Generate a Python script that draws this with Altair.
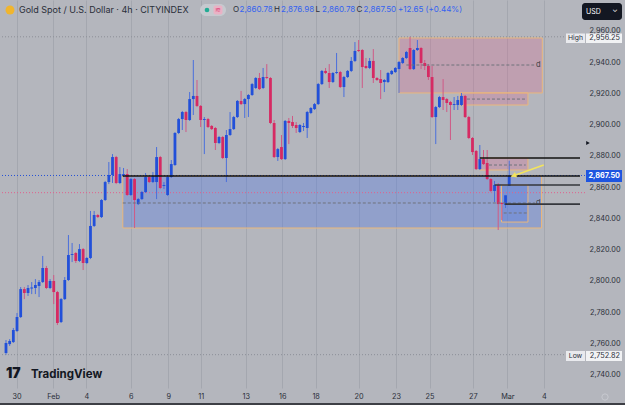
import json
import altair as alt
import pandas as pd

# ---------------- data ----------------
opens = [2753.9, 2759.6, 2760.9, 2768.0, 2776.9, 2794.8, 2792.3, 2795.2, 2795.5, 2796.8,
         2799.3, 2808.3, 2795.5, 2800.0, 2792.9, 2773.7, 2788.4, 2800.6, 2816.6, 2817.9,
         2812.8, 2820.4, 2811.5, 2814.7, 2835.2, 2842.2, 2840.9, 2851.8, 2863.3, 2867.8,
         2879.3, 2862.7, 2867.8, 2868.4, 2855.0, 2865.2, 2849.2, 2852.4, 2856.9, 2866.5,
         2863.3, 2863.3, 2879.3, 2860.8, 2855.0, 2866.5, 2874.2, 2894.7, 2903.6, 2908.1,
         2903.0, 2916.4, 2918.4, 2912.0, 2903.0, 2903.6, 2899.2, 2897.9, 2888.3, 2892.1,
         2878.7, 2893.4, 2897.2, 2904.9, 2915.2, 2913.2, 2916.4, 2919.0, 2923.5, 2929.9,
         2923.5, 2930.5, 2929.9, 2901.1, 2879.3, 2885.7, 2878.0, 2902.4, 2901.7, 2899.8,
         2895.3, 2898.5, 2897.9, 2907.5, 2910.0, 2913.2, 2926.0, 2934.4, 2933.1, 2927.3,
         2933.1, 2933.7, 2924.1, 2930.5, 2934.4, 2940.8, 2947.8, 2947.8, 2937.6, 2936.3,
         2940.8, 2929.9, 2929.2, 2927.3, 2927.3, 2932.4, 2933.7, 2935.6, 2939.5, 2942.7,
         2949.1, 2935.6, 2947.8, 2949.1, 2939.5, 2937.6, 2930.5, 2904.9, 2911.3, 2917.7,
         2916.4, 2914.5, 2912.6, 2912.6, 2912.6, 2918.4, 2904.9, 2891.5, 2883.2, 2871.6,
         2878.0, 2875.5, 2865.2, 2857.6, 2861.4, 2849.9, 2848.6, 2860.78]
highs = [2762.2, 2762.8, 2769.9, 2779.5, 2796.1, 2796.1, 2797.4, 2799.3, 2801.2, 2800.6,
         2816.0, 2809.6, 2801.2, 2803.8, 2793.6, 2789.1, 2802.5, 2829.4, 2824.3, 2818.5,
         2823.6, 2821.1, 2815.3, 2844.8, 2844.8, 2842.8, 2852.4, 2864.0, 2876.1, 2881.2,
         2880.0, 2872.9, 2872.3, 2871.6, 2865.9, 2865.9, 2853.1, 2857.6, 2869.1, 2867.2,
         2869.7, 2885.7, 2880.0, 2863.3, 2867.2, 2877.4, 2895.3, 2904.3, 2908.8, 2908.8,
         2920.9, 2941.4, 2928.6, 2912.6, 2904.9, 2904.3, 2899.8, 2898.5, 2892.8, 2892.8,
         2896.6, 2908.1, 2905.6, 2915.8, 2921.6, 2917.1, 2919.6, 2926.7, 2930.5, 2933.1,
         2936.3, 2938.8, 2930.5, 2903.0, 2885.1, 2893.4, 2903.0, 2904.3, 2905.6, 2901.7,
         2900.4, 2901.1, 2908.8, 2911.3, 2913.9, 2926.7, 2935.0, 2936.3, 2938.8, 2933.7,
         2945.9, 2934.4, 2931.2, 2935.0, 2943.3, 2952.9, 2954.2, 2948.4, 2942.7, 2942.7,
         2948.4, 2930.5, 2935.0, 2929.2, 2933.7, 2935.0, 2936.9, 2940.8, 2943.3, 2947.2,
         2956.25, 2948.4, 2954.2, 2949.7, 2941.4, 2938.8, 2937.6, 2912.0, 2918.4, 2929.2,
         2917.1, 2915.2, 2917.7, 2918.4, 2920.3, 2919.0, 2905.6, 2892.1, 2883.8, 2887.0,
         2883.8, 2883.8, 2865.9, 2864.0, 2862.7, 2850.5, 2854.4, 2876.98]
lows = [2752.82, 2758.4, 2760.3, 2767.3, 2776.3, 2788.4, 2790.4, 2791.6, 2791.6, 2789.7,
        2798.7, 2794.8, 2794.8, 2785.2, 2771.8, 2773.1, 2787.8, 2800.0, 2812.1, 2811.5,
        2812.1, 2807.0, 2810.8, 2814.0, 2834.5, 2840.3, 2840.3, 2851.2, 2862.0, 2862.7,
        2862.0, 2862.0, 2866.5, 2854.4, 2854.4, 2833.9, 2848.6, 2851.8, 2856.3, 2862.7,
        2862.7, 2852.4, 2858.8, 2858.8, 2854.4, 2865.9, 2873.6, 2894.0, 2896.6, 2895.3,
        2902.4, 2906.2, 2911.3, 2898.5, 2881.2, 2897.9, 2896.6, 2883.8, 2887.6, 2878.0,
        2863.3, 2892.8, 2896.6, 2904.3, 2912.6, 2904.3, 2904.9, 2918.4, 2922.8, 2922.2,
        2922.8, 2929.2, 2900.4, 2878.7, 2876.8, 2877.4, 2877.4, 2887.6, 2897.9, 2894.7,
        2894.7, 2896.0, 2891.5, 2906.8, 2909.4, 2912.6, 2925.4, 2932.4, 2923.5, 2926.7,
        2932.4, 2923.5, 2917.7, 2929.9, 2933.7, 2940.1, 2946.5, 2923.5, 2935.6, 2935.6,
        2926.7, 2928.0, 2916.4, 2920.9, 2926.7, 2931.8, 2933.1, 2920.3, 2938.8, 2942.0,
        2935.0, 2935.0, 2947.2, 2935.6, 2935.0, 2928.6, 2904.3, 2887.6, 2910.7, 2909.4,
        2908.1, 2890.2, 2909.4, 2909.4, 2912.0, 2904.3, 2890.8, 2880.6, 2871.0, 2871.0,
        2874.2, 2864.6, 2856.9, 2850.5, 2832.6, 2839.0, 2846.7, 2860.78]
closes = [2760.3, 2761.6, 2768.6, 2776.9, 2794.8, 2792.3, 2795.5, 2795.8, 2797.4, 2799.3,
          2808.3, 2795.5, 2800.0, 2792.9, 2773.1, 2788.4, 2800.6, 2816.6, 2817.2, 2812.8,
          2820.4, 2811.5, 2814.7, 2835.2, 2842.2, 2840.9, 2851.8, 2863.3, 2867.8, 2879.3,
          2862.7, 2868.4, 2868.4, 2855.0, 2865.2, 2851.8, 2852.4, 2856.9, 2866.5, 2863.3,
          2867.2, 2879.3, 2859.5, 2861.4, 2866.5, 2874.8, 2894.7, 2903.6, 2908.1, 2903.0,
          2916.4, 2918.4, 2912.0, 2903.0, 2903.6, 2898.5, 2897.2, 2888.3, 2892.1, 2878.7,
          2893.4, 2897.2, 2904.9, 2915.2, 2913.2, 2916.4, 2919.0, 2926.0, 2929.9, 2922.8,
          2930.5, 2929.9, 2901.1, 2879.3, 2884.4, 2878.0, 2902.4, 2901.1, 2899.2, 2897.9,
          2899.8, 2899.2, 2908.1, 2910.7, 2913.2, 2926.0, 2934.4, 2933.1, 2927.3, 2933.1,
          2933.7, 2924.1, 2930.5, 2934.4, 2940.8, 2947.2, 2947.2, 2936.9, 2936.3, 2940.8,
          2929.9, 2928.6, 2926.7, 2928.6, 2933.1, 2934.4, 2936.3, 2940.1, 2942.7, 2946.5,
          2935.6, 2947.8, 2949.1, 2939.5, 2937.6, 2930.5, 2904.9, 2911.3, 2917.7, 2915.8,
          2913.9, 2912.6, 2913.2, 2915.8, 2918.4, 2904.9, 2891.5, 2882.5, 2871.6, 2878.0,
          2874.8, 2865.2, 2857.6, 2861.4, 2849.2, 2849.2, 2854.85, 2867.50]

# time axis (bar index positions of the date labels)
tick_pos = [2.9, 12.8, 21.9, 34.0, 44.2, 53.0, 65.3, 75.2, 84.3, 96.0, 106.2, 115.3, 127.1, 136.5, 146.4]
tick_lbl = ["30", "Feb", "4", "6", "9", "11", "13", "16", "18", "20", "23", "25", "27", "Mar", "4"]
price_ticks = [2740, 2760, 2780, 2800, 2820, 2840, 2860, 2880, 2900, 2920, 2940, 2960]

# zones (bar index range, price range)
zone_x0 = [31.8, 107.0, 123.6, 129.0, 134.9]
zone_x1 = [145.8, 146.0, 142.1, 142.1, 142.1]
zone_top = [2867.2, 2955.5, 2920.3, 2878.7, 2861.4]
zone_bot = [2833.9, 2920.3, 2912.6, 2871.0, 2837.7]
zone_mid = [2849.9, 2938.2, 2916.4, 2874.2, 2843.5]
zone_kind = ["demand", "supply", "supply", "supply", "demand"]
mid_x0 = [31.8, 109.0, 125.5, 131.5, 135.5]
mid_x1 = [144.0, 143.8, 141.5, 141.5, 142.0]

# horizontal rays
ray_price = [2878.7, 2861.4, 2849.2, 2867.2]
ray_x0 = [129.0, 133.0, 135.9, 31.8]
ray_kind = ["black", "gray", "gray", "black"]

# full-width price lines
pl_price = [2956.25, 2752.82, 2856.5, 2867.5]
pl_kind = ["hl", "hl", "prev", "last"]

# arrow
arrow_x = [146.4, 137.6]
arrow_p = [2874.2, 2866.9]

XMIN, XMAX = -0.27, 156.27
YMIN, YMAX = 2731.5, 2979.8

BG = "#b4b6bd"
FONT = "Inter"
TXT = "#2a2e39"
BLUE = "#2250d9"
RED = "#d62a63"

n = len(opens)
candles = pd.DataFrame({"i": list(range(n)), "o": opens, "h": highs, "l": lows, "c": closes})
up = candles["c"] >= candles["o"]
candles["col"] = [BLUE if u else RED for u in up]
candles["wcol"] = ["#4a6fdc" if u else "#cf5a86" for u in up]
candles["b0"] = candles[["o", "c"]].min(axis=1)
candles["b1"] = candles[["o", "c"]].max(axis=1)

xs = alt.Scale(domain=[XMIN, XMAX], nice=False, zero=False)
ys = alt.Scale(domain=[YMIN, YMAX], nice=False, zero=False)

label_expr = f"{json.dumps(tick_lbl)}[indexof({json.dumps(tick_pos)}, datum.value)]"
xaxis = alt.Axis(values=tick_pos, labelExpr=label_expr, title=None, grid=True,
                 gridColor="#a4a7af", gridWidth=1, ticks=False, tickSize=0, domain=False,
                 labelFont=FONT, labelFontSize=7.3, labelColor=TXT, labelPadding=4,
                 labelFlush=False, labelOverlap=False)
yaxis = alt.Axis(orient="right", values=price_ticks, format=",.2f", title=None, grid=False,
                 ticks=False, tickSize=0, domain=False, labelAlign="right", labelPadding=35,
                 labelFont=FONT, labelFontSize=7.3, labelColor=TXT, labelOverlap=False,
                 labelBaseline="middle", labelFlush=False)


def X(f):
    return alt.X(f, type="quantitative", scale=xs, axis=xaxis)


def Y(f):
    return alt.Y(f, type="quantitative", scale=ys, axis=yaxis)


layers = []

# zones
zdf = pd.DataFrame({"x0": zone_x0, "x1": zone_x1, "top": zone_top, "bot": zone_bot, "kind": zone_kind})
zdf["fill"] = ["#4f79e6" if k == "demand" else "#e05a8a" for k in zdf["kind"]]
zdf["op"] = [0.35 if k == "demand" else 0.25 for k in zdf["kind"]]
layers.append(alt.Chart(zdf).mark_rect(stroke="#eab77c", strokeWidth=1).encode(
    x=X("x0"), x2="x1", y=Y("top"), y2="bot",
    color=alt.Color("fill:N", scale=None),
    fillOpacity=alt.FillOpacity("op:Q", scale=None)))

# full width dotted price lines
pdf = pd.DataFrame({"p": pl_price, "kind": pl_kind})
pdf["col"] = [{"hl": "#8c8f98", "prev": "#e0608c", "last": "#2451d6"}[k] for k in pl_kind]
layers.append(alt.Chart(pdf).mark_rule(strokeDash=[1, 2], strokeWidth=1).encode(
    y=Y("p"), color=alt.Color("col:N", scale=None)))

# wicks and bodies
layers.append(alt.Chart(candles).mark_rule(strokeWidth=1).encode(
    x=X("i"), y=Y("l"), y2="h", color=alt.Color("wcol:N", scale=None)))
layers.append(alt.Chart(candles).mark_bar(size=2.8).encode(
    x=X("i"), y=Y("b0"), y2="b1", color=alt.Color("col:N", scale=None)))

# dashed mid lines of zones
mdf = pd.DataFrame({"x0": mid_x0, "x1": mid_x1, "p": zone_mid})
layers.append(alt.Chart(mdf).mark_rule(strokeDash=[3, 2], strokeWidth=1, color="#6f727b").encode(
    x=X("x0"), x2="x1", y=Y("p")))

# horizontal rays
rdf = pd.DataFrame({"x0": ray_x0, "p": ray_price, "kind": ray_kind})
rdf["x1"] = XMAX
rdf["col"] = ["#121212" if k == "black" else "#35373d" for k in ray_kind]
layers.append(alt.Chart(rdf).mark_rule(strokeWidth=1.6).encode(
    x=X("x0"), x2="x1", y=Y("p"), color=alt.Color("col:N", scale=None)))

# "d" labels
ddf = pd.DataFrame({"x": [144.9, 144.9], "p": [zone_mid[0], zone_mid[1]], "t": ["d", "d"]})
layers.append(alt.Chart(ddf).mark_text(font=FONT, fontSize=7.5, color="#3a3c42", align="center",
                                       baseline="middle").encode(x=X("x"), y=Y("p"), text="t:N"))

# yellow arrow
adf = pd.DataFrame({"x": [arrow_x[0]], "x2": [arrow_x[1]], "p": [arrow_p[0]], "p2": [arrow_p[1]]})
layers.append(alt.Chart(adf).mark_rule(strokeWidth=1.6, color="#f3e45c").encode(
    x=X("x"), x2="x2", y=Y("p"), y2="p2"))
hdf = pd.DataFrame({"x": [arrow_x[1] + 0.6], "p": [arrow_p[1] + 0.45]})
layers.append(alt.Chart(hdf).mark_point(shape="triangle-left", angle=340, filled=True, size=35,
                                        color="#f3e45c", opacity=1).encode(x=X("x"), y=Y("p")))


# ---------------- chrome (TradingView UI) ----------------
def ui_rect(x0, x1, y0, y1, fill, radius=0, stroke=None):
    kw = dict(color=fill, cornerRadius=radius)
    if stroke:
        kw["stroke"] = stroke
    return alt.Chart(pd.DataFrame({"a": [0]})).mark_rect(**kw).encode(
        x=alt.value(x0), x2=alt.value(x1), y=alt.value(y0), y2=alt.value(y1))


def ui_text(t, x, y, color=TXT, size=8, weight="normal", align="left", font=FONT):
    return alt.Chart(pd.DataFrame({"t": [t]})).mark_text(
        font=font, fontSize=size, fontWeight=weight, color=color, align=align, baseline="middle"
    ).encode(x=alt.value(x), y=alt.value(y), text="t:N")


# header
layers.append(alt.Chart(pd.DataFrame({"a": [0]})).mark_point(shape="circle", filled=True, size=80,
                                                           color="#f0b52e", opacity=1).encode(
    x=alt.value(10), y=alt.value(10)))
layers.append(ui_text("Gold Spot / U.S. Dollar · 4h · CITYINDEX", 19, 10, size=9))
layers.append(ui_rect(200, 226, 4, 16, "#c6c9cf", radius=6))
layers.append(alt.Chart(pd.DataFrame({"a": [0]})).mark_point(shape="circle", filled=True, size=22,
                                                           color="#22ab94", opacity=1).encode(
    x=alt.value(207), y=alt.value(10)))
layers.append(ui_rect(213.5, 222.5, 5.5, 14.5, "#e9b2c5", radius=2))
layers.append(ui_text("≋", 218, 10, color="#e0457b", size=7, align="center"))
VAL = "#3563f0"
for t, x, c in [("O", 233, TXT), ("2,860.78", 239.5, VAL), ("H", 274, TXT), ("2,876.98", 281, VAL),
                ("L", 315.5, TXT), ("2,860.78", 322, VAL), ("C", 356.5, TXT), ("2,867.50", 363.5, VAL),
                ("+12.65 (+0.44%)", 398, VAL)]:
    layers.append(ui_text(t, x, 10, color=c, size=8))

# USD box
layers.append(ui_rect(582, 622, 3, 20, "#131722", radius=3))
layers.append(ui_text("USD", 586, 11.5, color="#ffffff", size=7))
layers.append(ui_text("⌄", 615, 10, color="#ffffff", size=7, align="center"))

# High / Low / last price labels on price scale
layers.append(ui_rect(566, 585, 33.5, 43, "#e9eaee"))
layers.append(ui_text("High", 575.5, 38.3, size=6.8, align="center"))
layers.append(ui_rect(586, 622, 33.5, 43, "#f1f2f4"))
layers.append(ui_text("2,956.25", 620, 38.3, size=7.3, align="right"))
layers.append(ui_rect(566, 585, 351, 361, "#e9eaee"))
layers.append(ui_text("Low", 575.5, 356, size=6.8, align="center"))
layers.append(ui_rect(586, 622, 351, 361, "#f1f2f4"))
layers.append(ui_text("2,752.82", 620, 356, size=7.3, align="right"))
layers.append(ui_rect(586, 622, 170, 182, "#1f55e0"))
layers.append(ui_text("2,867.50", 620, 176, color="#ffffff", size=7.3, weight="bold", align="right"))
layers.append(alt.Chart(pd.DataFrame({"a": [0]})).mark_point(shape="triangle-right", filled=True, size=18,
                                                           color="#131722", opacity=1).encode(
    x=alt.value(588), y=alt.value(143)))
layers.append(alt.Chart(pd.DataFrame({"a": [0]})).mark_point(shape="circle", filled=False, size=40,
                                                           color="#d0d2d8", strokeWidth=1).encode(
    x=alt.value(605), y=alt.value(397)))

# TradingView logo
layers.append(ui_text("17", 6, 374, color="#131722", size=14, weight=900))
layers.append(ui_text("TradingView", 31, 374.5, color="#131722", size=11.5, weight="bold"))

# bottom edge
layers.append(alt.Chart(pd.DataFrame({"a": [0]})).mark_rule(strokeWidth=2, color="#3d3f45").encode(
    x=alt.value(0), x2=alt.value(625), y=alt.value(404)))

chart = alt.layer(*layers).properties(
    width=585, height=388,
    autosize=alt.AutoSizeParams(type="none"),
    padding={"left": 0, "top": 0, "right": 40, "bottom": 17},
    background=BG,
).configure_view(stroke=None)

chart.save("out.html", embed_options={"renderer": "svg", "actions": False})
